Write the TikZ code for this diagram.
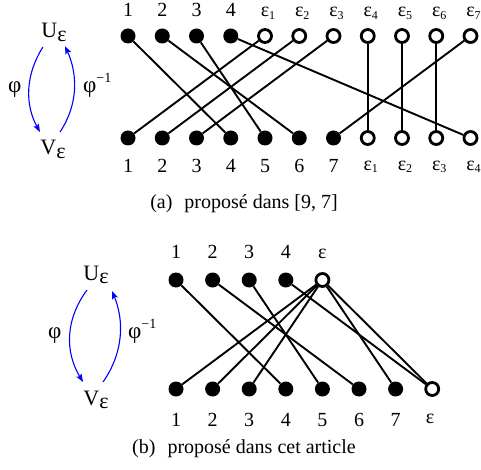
\documentclass[tikz,border=0pt]{standalone}
\usepackage{fontspec}
\setmainfont{Liberation Serif}
\usetikzlibrary{arrows.meta}
\newcommand\mysub[1]{\rlap{\raisebox{-2.5pt}{\fontsize{12}{14}\selectfont #1}}}
\newcommand\mysup[1]{\raisebox{10pt}{\fontsize{14}{16}\selectfont #1}}
\begin{document}
\begin{tikzpicture}[x=1pt,y=-1pt,
 full/.style={circle,fill=black,minimum size=15pt,inner sep=0pt},
 hollow/.style={circle,draw=black,line width=2.8pt,fill=white,minimum size=13pt,inner sep=0pt},
 edg/.style={line width=1.9pt},
 lab/.style={inner sep=0pt,anchor=base,font=\fontsize{20}{24}\selectfont},
 big/.style={inner sep=0pt,anchor=base,font=\fontsize{22}{26}\selectfont},
 phi/.style={inner sep=0pt,anchor=base west,font=\fontsize{23}{26}\selectfont},
 arr/.style={blue,line width=1.1pt,-{Stealth[length=8pt,width=6pt,inset=1.5pt]}}]
\useasboundingbox (0,0) rectangle (481,470);

% ---------------- (a) ----------------
\foreach \i in {1,...,4} {
  \node[full] (at\i) at ({128+34.25*(\i-1)},36) {};
  \node[lab] (lat\i) at ({128+34.25*(\i-1)},16.5) {\i};
}
\foreach \i in {1,...,7} {
  \node[hollow] (ate\i) at ({128+34.25*(\i+3)},36) {};
  \node[lab] (late\i) at ({128+34.25*(\i+3)},17) {ε\mysub{\i}};
}
\foreach \i in {1,...,7} {
  \node[full] (ab\i) at ({128+34.25*(\i-1)},138) {};
  \node[lab] (lab\i) at ({128+34.25*(\i-1)},173) {\i};
}
\foreach \i in {1,...,4} {
  \node[hollow] (abe\i) at ({128+34.25*(\i+6)},138) {};
  \node[lab] (labe\i) at ({128+34.25*(\i+6)},170.5) {ε\mysub{\i}};
}
\draw[edg] (at1) -- (ab4);
\draw[edg] (at2) -- (ab6);
\draw[edg] (at3) -- (ab5);
\draw[edg] (at4) -- (abe4);
\draw[edg] (ate1) -- (ab1);
\draw[edg] (ate2) -- (ab2);
\draw[edg] (ate3) -- (ab3);
\draw[edg] (ate4) -- (abe1);
\draw[edg] (ate5) -- (abe2);
\draw[edg] (ate6) -- (abe3);
\draw[edg] (ate7) -- (ab7);

\node[big] (Ua) at (54,38) {U\raisebox{-3.5pt}{ε}};
\node[big] (Va) at (53,155) {V\raisebox{-3.5pt}{ε}};
\node[phi] (pa) at (8,93) {φ};
\node[phi] (pia) at (83,93) {φ\mysup{−1}};
\coordinate (a1s) at (43,47);
\coordinate (a1e) at (40,132);
\coordinate (a2s) at (60,132);
\coordinate (a2e) at (65,46);
\draw[arr] (a1s) .. controls (25,75) and (25,105) .. (a1e);
\draw[arr] (a2s) .. controls (78,105) and (78,75) .. (a2e);

\node[lab] (capa) at (244,208) {(a)\hspace{0.6em}proposé dans [9, 7]};

% ---------------- (b) ----------------
\foreach \i in {1,...,4} {
  \node[full] (bt\i) at ({176+36.6*(\i-1)},280) {};
  \node[lab] (lbt\i) at ({176+36.6*(\i-1)},258) {\i};
}
\node[hollow] (bte) at ({176+36.6*4},280) {};
\node[lab] (lbte) at ({176+36.6*4},258) {ε};
\foreach \i in {1,...,7} {
  \node[full] (bb\i) at ({176+36.6*(\i-1)},389) {};
  \node[lab] (lbb\i) at ({176+36.6*(\i-1)},426) {\i};
}
\node[hollow] (bbe) at ({176+36.6*7},389) {};
\node[lab] (lbbe) at (430,423) {ε};
\draw[edg] (bt1) -- (bb4);
\draw[edg] (bt2) -- (bb6);
\draw[edg] (bt3) -- (bb5);
\draw[edg] (bt4) -- (bbe);
\draw[edg] (bte) -- (bb1);
\draw[edg] (bte) -- (bb2);
\draw[edg] (bte) -- (bb3);
\draw[edg] (bte) -- (bb7);
\draw[edg] (bte) -- (bbe);

\node[big] (Ub) at (96,280) {U\raisebox{-3.5pt}{ε}};
\node[big] (Vb) at (96,405) {V\raisebox{-3.5pt}{ε}};
\node[phi] (pb) at (48,338) {φ};
\node[phi] (pib) at (128,338) {φ\mysup{−1}};
\coordinate (b1s) at (87,290);
\coordinate (b1e) at (83,382);
\coordinate (b2s) at (103,382);
\coordinate (b2e) at (112,291);
\draw[arr] (b1s) .. controls (65,320) and (65,352) .. (b1e);
\draw[arr] (b2s) .. controls (124,352) and (124,320) .. (b2e);

\node[lab] (capb) at (244,453.5) {(b)\hspace{0.6em}proposé dans cet article};
\end{tikzpicture}
\end{document}
